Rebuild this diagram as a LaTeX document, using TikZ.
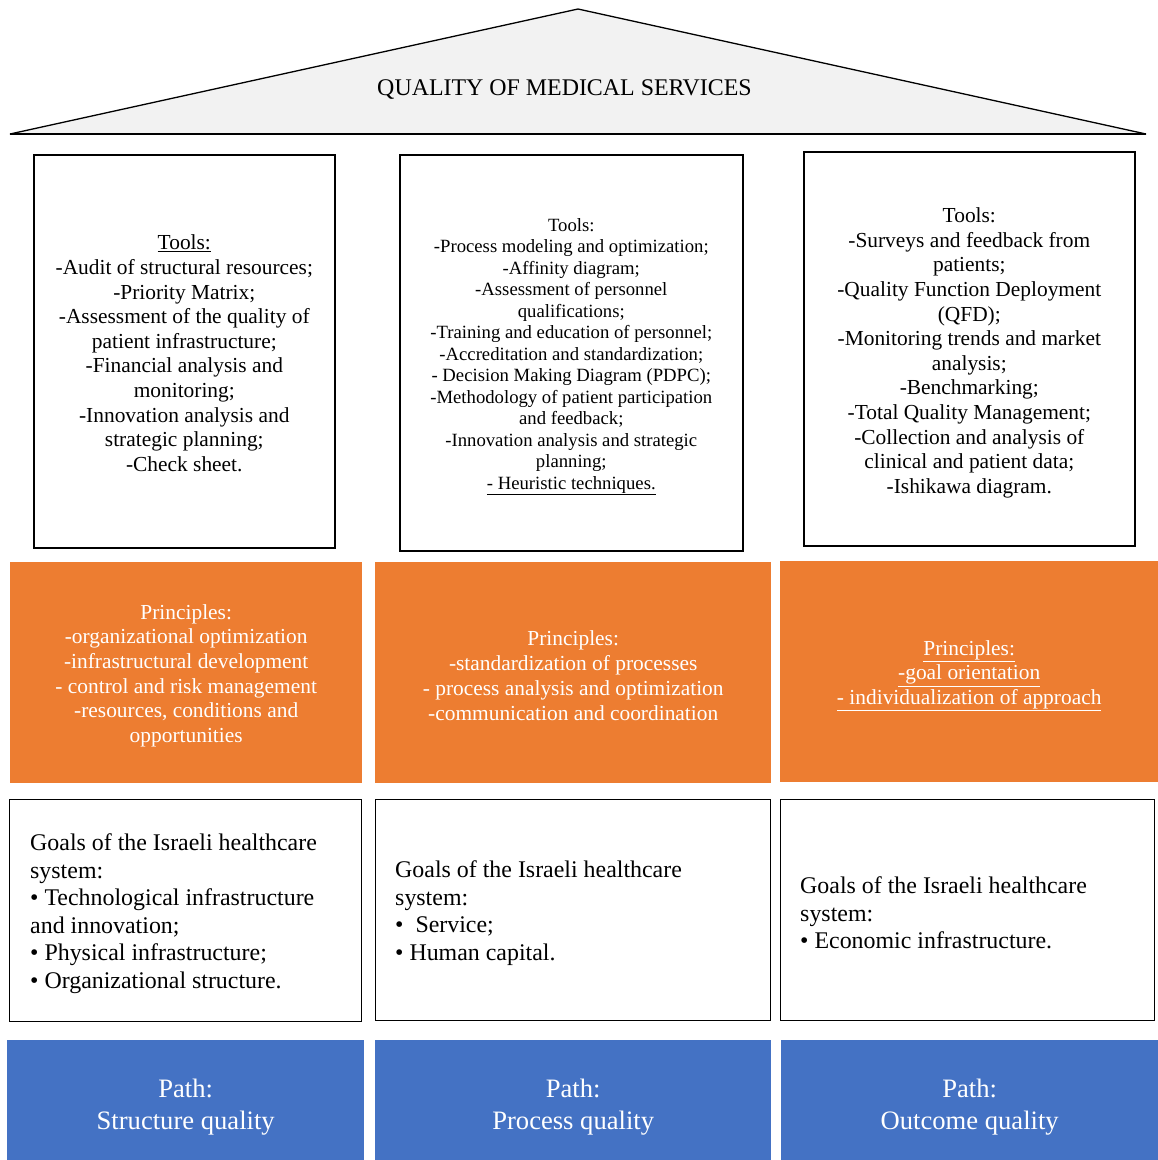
\documentclass[tikz,border=0pt]{standalone}
\usepackage{fontspec}
\setmainfont{Liberation Serif}
\definecolor{orng}{HTML}{ED7D31}
\definecolor{blu}{HTML}{4472C4}
\definecolor{roofgray}{HTML}{F2F2F2}
\begin{document}
\begin{tikzpicture}[x=1pt,y=-1pt,
  toolbox/.style={draw, line width=1.6pt, anchor=north west, inner sep=0pt},
  prinbox/.style={fill=orng, anchor=north west, inner sep=0pt},
  goalbox/.style={draw, line width=1.4pt, anchor=north west, inner sep=0pt},
  pathbox/.style={fill=blu, anchor=north west, inner sep=0pt},
  bigtool/.style={align=center, inner sep=0pt, font=\fontsize{21.4}{24.6}\selectfont},
  smalltool/.style={align=center, inner sep=0pt, font=\fontsize{18.7}{21.5}\selectfont},
  printext/.style={align=center, inner sep=0pt, text=white, font=\fontsize{21.4}{24.7}\selectfont},
  goaltext/.style={align=left, inner sep=0pt, anchor=west, font=\fontsize{23.9}{27.5}\selectfont},
  pathtext/.style={align=center, inner sep=0pt, text=white, font=\fontsize{26.6}{32}\selectfont}]
\useasboundingbox (0,0) rectangle (1158,1160);
% roof
\coordinate (rl) at (10,134);
\coordinate (ra) at (578,9);
\coordinate (rr) at (1146,134);
\draw[fill=roofgray, line width=1.3pt, line join=bevel] (rl) -- (ra) -- (rr) -- cycle;
\draw[line width=2.2pt] (rl) -- (rr);
\node[inner sep=0pt, font=\fontsize{23.9}{27}\selectfont] (title) at (564.5,90) {QUALITY OF MEDICAL SERVICES};
% tools
\node[toolbox, minimum width=301pt, minimum height=393pt] (t1) at (33,154) {};
\node[bigtool] (t1t) at ([yshift=-2pt]t1.center)
 {\underline{Tools:}\\-Audit of structural resources;\\-Priority Matrix;\\-Assessment of the quality of\\patient infrastructure;\\-Financial analysis and\\monitoring;\\-Innovation analysis and\\strategic planning;\\-Check sheet.};
\node[toolbox, minimum width=343pt, minimum height=396pt] (t2) at (399,154) {};
\node[smalltool] (t2t) at ([yshift=-4pt]t2.center)
 {Tools:\\-Process modeling and optimization;\\-Affinity diagram;\\-Assessment of personnel\\qualifications;\\-Training and education of personnel;\\-Accreditation and standardization;\\- Decision Making Diagram (PDPC);\\-Methodology of patient participation\\and feedback;\\-Innovation analysis and strategic\\planning;\\\underline{- Heuristic techniques.}};
\node[toolbox, minimum width=331pt, minimum height=394pt] (t3) at (803,151) {};
\node[bigtool] (t3t) at ([yshift=-4pt]t3.center)
 {Tools:\\-Surveys and feedback from\\patients;\\-Quality Function Deployment\\(QFD);\\-Monitoring trends and market\\analysis;\\-Benchmarking;\\-Total Quality Management;\\-Collection and analysis of\\clinical and patient data;\\-Ishikawa diagram.};
% principles
\node[prinbox, minimum width=352pt, minimum height=221pt] (p1) at (10,562) {};
\node[printext] (p1t) at ([yshift=-3pt]p1.center)
 {Principles:\\-organizational optimization\\-infrastructural development\\- control and risk management\\-resources, conditions and\\opportunities};
\node[prinbox, minimum width=396pt, minimum height=221pt] (p2) at (375,562) {};
\node[printext] (p2t) at ([yshift=-3pt]p2.center)
 {Principles:\\-standardization of processes\\- process analysis and optimization\\-communication and coordination};
\node[prinbox, minimum width=378pt, minimum height=221pt] (p3) at (780,561) {};
\node[printext] (p3t) at ([yshift=-4pt]p3.center)
 {\underline{Principles:}\\\underline{-goal orientation}\\\underline{- individualization of approach}};
% goals
\node[goalbox, minimum width=352pt, minimum height=222pt] (g1) at (9,799) {};
\node[goaltext] (g1t) at ([xshift=21pt,yshift=-3pt]g1.west)
 {Goals of the Israeli healthcare\\system:\\• Technological infrastructure\\and innovation;\\• Physical infrastructure;\\• Organizational structure.};
\node[goalbox, minimum width=395pt, minimum height=221pt] (g2) at (375,799) {};
\node[goaltext] (g2t) at ([xshift=20pt,yshift=-3pt]g2.west)
 {Goals of the Israeli healthcare\\system:\\•\ \ Service;\\• Human capital.};
\node[goalbox, minimum width=374pt, minimum height=221pt] (g3) at (780,799) {};
\node[goaltext] (g3t) at ([xshift=20pt,yshift=-3pt]g3.west)
 {Goals of the Israeli healthcare\\system:\\• Economic infrastructure.};
% paths
\node[pathbox, minimum width=357pt, minimum height=120pt] (b1) at (7,1040) {};
\node[pathtext] (b1t) at ([yshift=-7pt]b1.center) {Path:\\Structure quality};
\node[pathbox, minimum width=396pt, minimum height=120pt] (b2) at (375,1040) {};
\node[pathtext] (b2t) at ([yshift=-7pt]b2.center) {Path:\\Process quality};
\node[pathbox, minimum width=377pt, minimum height=120pt] (b3) at (781,1040) {};
\node[pathtext] (b3t) at ([yshift=-7pt]b3.center) {Path:\\Outcome quality};
\end{tikzpicture}
\end{document}
